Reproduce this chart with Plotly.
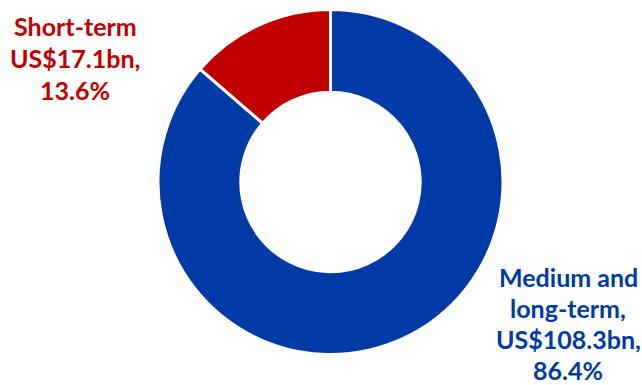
import plotly.graph_objects as go

# External debt by maturity (US$ bn)
categories = ["Medium and long-term", "Short-term"]
values = [108.3, 17.1]
colors = ["#003AA6", "#C00000"]

total = sum(values)
shares = [v / total * 100 for v in values]

# label lines for each slice
label_lines = {
    "Medium and long-term": ["Medium and", "long-term,", f"US${values[0]:.1f}bn,", f"{shares[0]:.1f}%"],
    "Short-term": ["Short-term", f"US${values[1]:.1f}bn,", f"{shares[1]:.1f}%"],
}

W, H = 642, 385
cx, cy, r = 330.5, 182, 172.5

fig = go.Figure(
    go.Pie(
        labels=categories,
        values=values,
        marker=dict(colors=colors, line=dict(color="white", width=3)),
        hole=0.52,
        sort=False,
        direction="clockwise",
        rotation=0,
        textinfo="none",
        hoverinfo="label+value+percent",
        domain=dict(
            x=[(cx - r) / W, (cx + r) / W],
            y=[(H - cy - r) / H, (H - cy + r) / H],
        ),
    )
)

annotations = []
# (center x, first line center y, line gap) in pixels from top-left
anchors = {"Short-term": (75, 26.5, 31.8), "Medium and long-term": (568, 276.5, 31.2)}
for cat, col in zip(categories, colors):
    x0, y0, gap = anchors[cat]
    for i, line in enumerate(label_lines[cat]):
        annotations.append(dict(
            x=x0 / W, y=1 - (y0 + i * gap) / H,
            xref="paper", yref="paper",
            xanchor="center", yanchor="middle",
            text=line, showarrow=False, borderpad=0,
            font=dict(family="Lato", size=25, color=col, weight="bold"),
        ))

fig.update_layout(
    width=W, height=H,
    margin=dict(l=0, r=0, t=0, b=0),
    paper_bgcolor="white",
    plot_bgcolor="white",
    showlegend=False,
    annotations=annotations,
)

fig.write_html("out.html")
